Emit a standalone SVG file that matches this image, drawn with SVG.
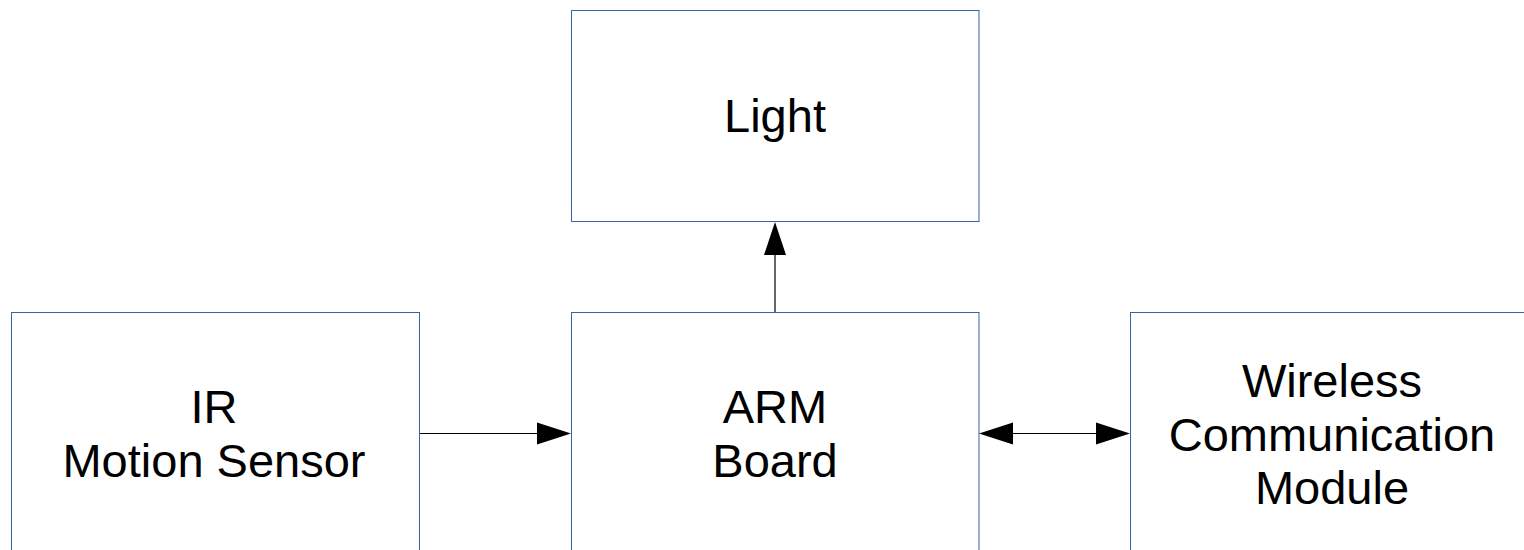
<svg xmlns="http://www.w3.org/2000/svg" width="1524" height="550" viewBox="0 0 1524 550">
<style>
.box{fill:#ffffff;stroke:#3465a4;stroke-width:1}
.lbl{font-family:"Liberation Sans",Arial,sans-serif;font-size:47px;fill:#000000;text-anchor:middle}
.conn{stroke:#000000;stroke-width:1.2;fill:none}
.head{fill:#000000}
</style>
<rect width="1524" height="550" fill="#ffffff"/>
<g id="light">
<rect class="box" x="571.5" y="10.5" width="407.5" height="211"/>
<text class="lbl" x="775" y="132">Light</text>
</g>
<g id="ir-sensor">
<rect class="box" x="11.5" y="312.5" width="408" height="260"/>
<text class="lbl" x="214" y="423">IR</text>
<text class="lbl" x="214" y="477">Motion Sensor</text>
</g>
<g id="arm-board">
<rect class="box" x="571.5" y="312.5" width="407.5" height="260"/>
<text class="lbl" x="775" y="423">ARM</text>
<text class="lbl" x="775" y="477">Board</text>
</g>
<g id="wireless">
<rect class="box" x="1130.5" y="312.5" width="408" height="260"/>
<text class="lbl" x="1332" y="397">Wireless</text>
<text class="lbl" x="1332" y="451">Communication</text>
<text class="lbl" x="1332" y="504">Module</text>
</g>
<g id="connectors">
<line class="conn" x1="775" y1="312" x2="775" y2="254"/>
<polygon class="head" points="775,222 764,255 786,255"/>
<line class="conn" x1="420" y1="433.5" x2="538" y2="433.5"/>
<polygon class="head" points="571,433.5 537,422.5 537,444.5"/>
<line class="conn" x1="1012" y1="433.5" x2="1097" y2="433.5"/>
<polygon class="head" points="979,433.5 1013,422.5 1013,444.5"/>
<polygon class="head" points="1130,433.5 1096,422.5 1096,444.5"/>
</g>
</svg>
